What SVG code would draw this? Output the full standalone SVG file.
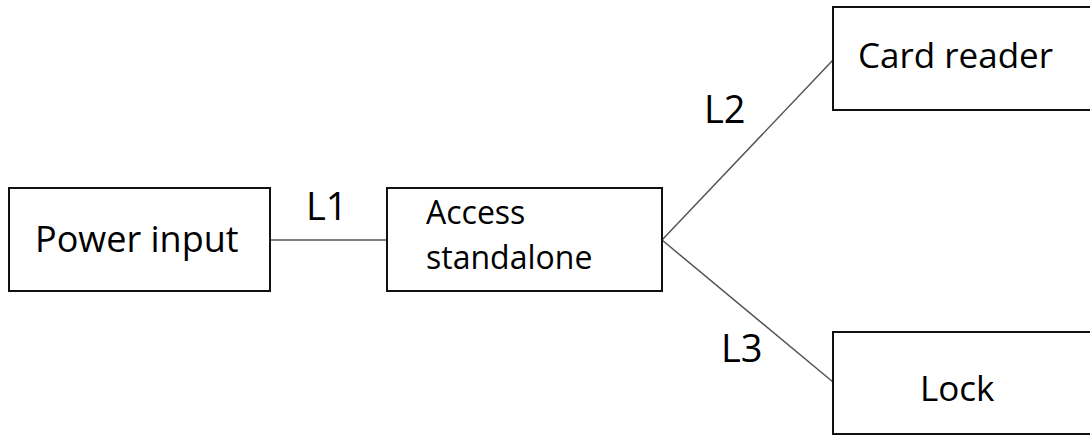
<svg xmlns="http://www.w3.org/2000/svg" width="1090" height="435" viewBox="0 0 1090 435">
<style>
.box{fill:#fff;stroke:#111;stroke-width:2}
.t{font-family:"Open Sans","Noto Sans",sans-serif;fill:#000}
.c{stroke:#555;stroke-width:1.5;fill:none}
</style>
<rect width="1090" height="435" fill="#fff"/>
<g id="connectors">
<line class="c" x1="270" y1="240" x2="387" y2="240"/>
<line class="c" x1="662" y1="240" x2="833" y2="60"/>
<line class="c" x1="662" y1="240" x2="833" y2="382"/>
<text class="t" x="306" y="220" font-size="38">L1</text>
<text class="t" x="704" y="123" font-size="38">L2</text>
<text class="t" x="721" y="362" font-size="38">L3</text>
</g>
<g id="power">
<rect class="box" x="9" y="188" width="261" height="103"/>
<text class="t" x="35" y="252" font-size="36">Power input</text>
</g>
<g id="access">
<rect class="box" x="387" y="188" width="275" height="103"/>
<text class="t" x="426" y="224" font-size="32">Access</text>
<text class="t" x="426" y="269" font-size="32">standalone</text>
</g>
<g id="card">
<rect class="box" x="833" y="7" width="270" height="103"/>
<text class="t" x="858" y="68" font-size="35">Card reader</text>
</g>
<g id="lock">
<rect class="box" x="833" y="332" width="270" height="102"/>
<text class="t" x="920" y="401" font-size="35">Lock</text>
</g>
</svg>
